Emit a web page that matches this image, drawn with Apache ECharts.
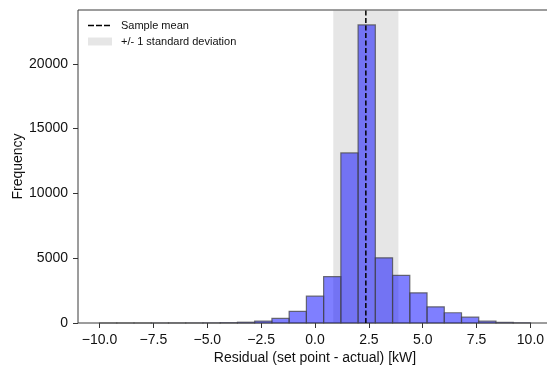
<!DOCTYPE html>
<html>
<head>
<meta charset="utf-8">
<script src="https://cdn.jsdelivr.net/npm/echarts@6/dist/echarts.min.js"></script>
<style>
  html, body { margin: 0; padding: 0; background: #ffffff; }
  #chart { width: 547px; height: 367px; }
</style>
</head>
<body>
<div id="chart"></div>
<script>
// Histogram bin edges (kW) and the count in each bin
const binEdges = [-10.0, -9.2, -8.4, -7.6, -6.8, -6.0, -5.2, -4.4, -3.6, -2.8, -2.0, -1.2, -0.4,
                  0.4, 1.2, 2.0, 2.8, 3.6, 4.4, 5.2, 6.0, 6.8, 7.6, 8.4, 9.2, 10.0];
const counts = [2, 1, 2, 3, 4, 6, 10, 25, 60, 150, 350, 900, 2070,
                3580, 13120, 23000, 5030, 3680, 2330, 1250, 790, 450, 140, 50, 15];

// Summary statistics of the residuals
const sampleMean = 2.36;
const stdBand = [0.85, 3.87];

// Tick positions
const xTicks = [-10, -7.5, -5, -2.5, 0, 2.5, 5, 7.5, 10];
const yTicks = [0, 5000, 10000, 15000, 20000];

const FONT = "'Liberation Sans', Arial, Helvetica, sans-serif";
const histData = counts.map((c, i) => [binEdges[i], binEdges[i + 1], c]);
const span = binEdges[binEdges.length - 1] - binEdges[0];
const xMin = binEdges[0] - 0.05 * span;
const xMax = binEdges[binEdges.length - 1] + 0.05 * span;
const yMax = Math.max(...counts) * 1.05;

// short dashes used as the legend key of the mean line
const DASH_ICON = 'path://M0,0h6v1.6h-6zM8,0h6v1.6h-6zM16,0h6v1.6h-6z';

const chart = echarts.init(document.getElementById('chart'), null, { renderer: 'canvas' });

chart.setOption({
  animation: false,
  backgroundColor: '#ffffff',
  textStyle: { fontFamily: FONT },
  grid: {
    show: true, left: 78, right: -5, top: 10, bottom: 44,
    outerBoundsMode: 'none', containLabel: false,
    borderColor: '#3a3a3a', borderWidth: 1, backgroundColor: 'transparent'
  },
  legend: [
    {
      orient: 'vertical', left: 88, top: 20, padding: 0,
      itemWidth: 22, itemHeight: 1.6,
      textStyle: { fontFamily: FONT, fontSize: 11, color: '#111', padding: [0, 0, 0, 6] },
      data: [{ name: 'Sample mean', icon: DASH_ICON, itemStyle: { color: '#000' } }]
    },
    {
      orient: 'vertical', left: 88, top: 36, padding: 0,
      itemWidth: 24, itemHeight: 8,
      textStyle: { fontFamily: FONT, fontSize: 11, color: '#111', padding: [0, 0, 0, 4] },
      data: [{ name: '+/- 1 standard deviation', icon: 'rect' }]
    }
  ],
  xAxis: {
    type: 'value', min: xMin, max: xMax,
    name: 'Residual (set point - actual) [kW]', nameLocation: 'middle', nameGap: 28,
    nameMoveOverlap: false,
    nameTextStyle: { fontFamily: FONT, fontSize: 14, color: '#111' },
    axisLine: { show: false, onZero: false },
    splitLine: { show: false },
    axisTick: { show: true, length: 5, customValues: xTicks, lineStyle: { color: '#333', width: 1 } },
    axisLabel: {
      customValues: xTicks, margin: 10, fontFamily: FONT, fontSize: 14, color: '#111',
      formatter: v => v.toFixed(1).replace('-', '\u2212')
    }
  },
  yAxis: {
    type: 'value', min: 0, max: yMax,
    name: 'Frequency', nameLocation: 'middle', nameGap: 53,
    nameMoveOverlap: false,
    nameTextStyle: { fontFamily: FONT, fontSize: 14, color: '#111' },
    axisLine: { show: false, onZero: false },
    splitLine: { show: false },
    axisTick: { show: true, length: 5, customValues: yTicks, lineStyle: { color: '#333', width: 1 } },
    axisLabel: {
      customValues: yTicks, margin: 10, fontFamily: FONT, fontSize: 14, color: '#111',
      formatter: v => String(v)
    }
  },
  series: [
    {
      name: '+/- 1 standard deviation',
      type: 'custom', z: 1, silent: true,
      itemStyle: { color: 'rgba(128,128,128,0.2)' },
      data: [[stdBand[0], stdBand[1]]],
      encode: { x: [0, 1] },
      renderItem: (params, api) => {
        const a = api.coord([api.value(0), 0]);
        const b = api.coord([api.value(1), 0]);
        const cs = params.coordSys;
        return {
          type: 'rect',
          shape: { x: a[0], y: cs.y, width: b[0] - a[0], height: cs.height },
          style: { fill: 'rgba(128,128,128,0.2)' }
        };
      }
    },
    {
      name: 'Residuals',
      type: 'custom', z: 2, silent: true,
      data: histData,
      encode: { x: [0, 1], y: 2 },
      renderItem: (params, api) => {
        const p0 = api.coord([api.value(0), 0]);
        const p1 = api.coord([api.value(1), api.value(2)]);
        return {
          type: 'rect',
          shape: { x: p0[0], y: p1[1], width: p1[0] - p0[0], height: p0[1] - p1[1] },
          style: { fill: 'rgba(0,0,255,0.5)', stroke: 'rgba(70,70,70,0.75)', lineWidth: 1.2 }
        };
      }
    },
    {
      name: 'Sample mean',
      type: 'line', z: 3, silent: true,
      symbol: 'none',
      data: [[sampleMean, 0], [sampleMean, yMax]],
      lineStyle: { color: '#000000', width: 1.5, type: [5, 2.5] },
      itemStyle: { color: '#000000' }
    }
  ]
});
</script>
</body>
</html>
